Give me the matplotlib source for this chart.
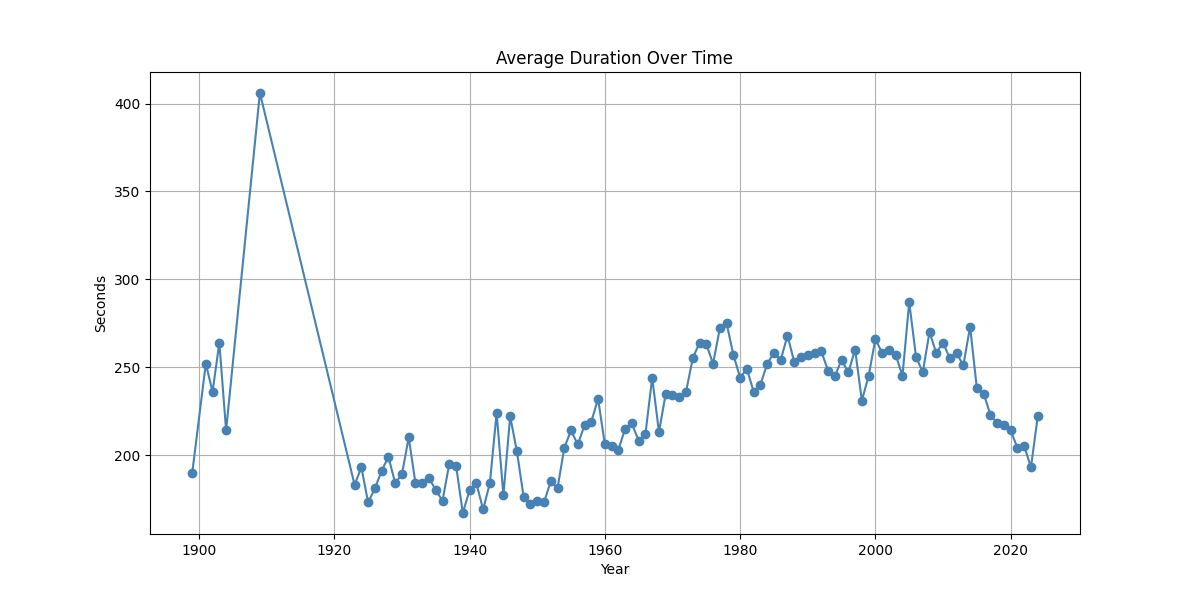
import matplotlib
matplotlib.use("Agg")
import matplotlib.pyplot as plt

# anos e duracao media (segundos)
anos = [1899, 1901, 1902, 1903, 1904, 1909] + list(range(1923, 2025))
duracao = [190, 252, 236, 264, 214, 406,
           183, 193, 173, 181, 191, 199, 184, 189, 210, 184,
           184, 187, 180, 174, 195, 194, 167, 180, 184, 169,
           184, 224, 177, 222, 202, 176, 172, 174, 173, 185,
           181, 204, 214, 206, 217, 219, 232, 206, 205, 203,
           215, 218, 208, 212, 244, 213, 235, 234, 233, 236,
           255, 264, 263, 252, 272, 275, 257, 244, 249, 236,
           240, 252, 258, 254, 268, 253, 256, 257, 258, 259,
           248, 245, 254, 247, 260, 231, 245, 266, 258, 260,
           257, 245, 287, 256, 247, 270, 258, 264, 255, 258,
           251, 273, 238, 235, 223, 218, 217, 214, 204, 205,
           193, 222]

plt.figure(figsize=(12, 6))
plt.plot(anos, duracao, marker='o', color='steelblue')
plt.title('Average Duration Over Time')
plt.xlabel('Year')
plt.ylabel('Seconds')
plt.grid(True)
plt.savefig("out.png", dpi=100)
